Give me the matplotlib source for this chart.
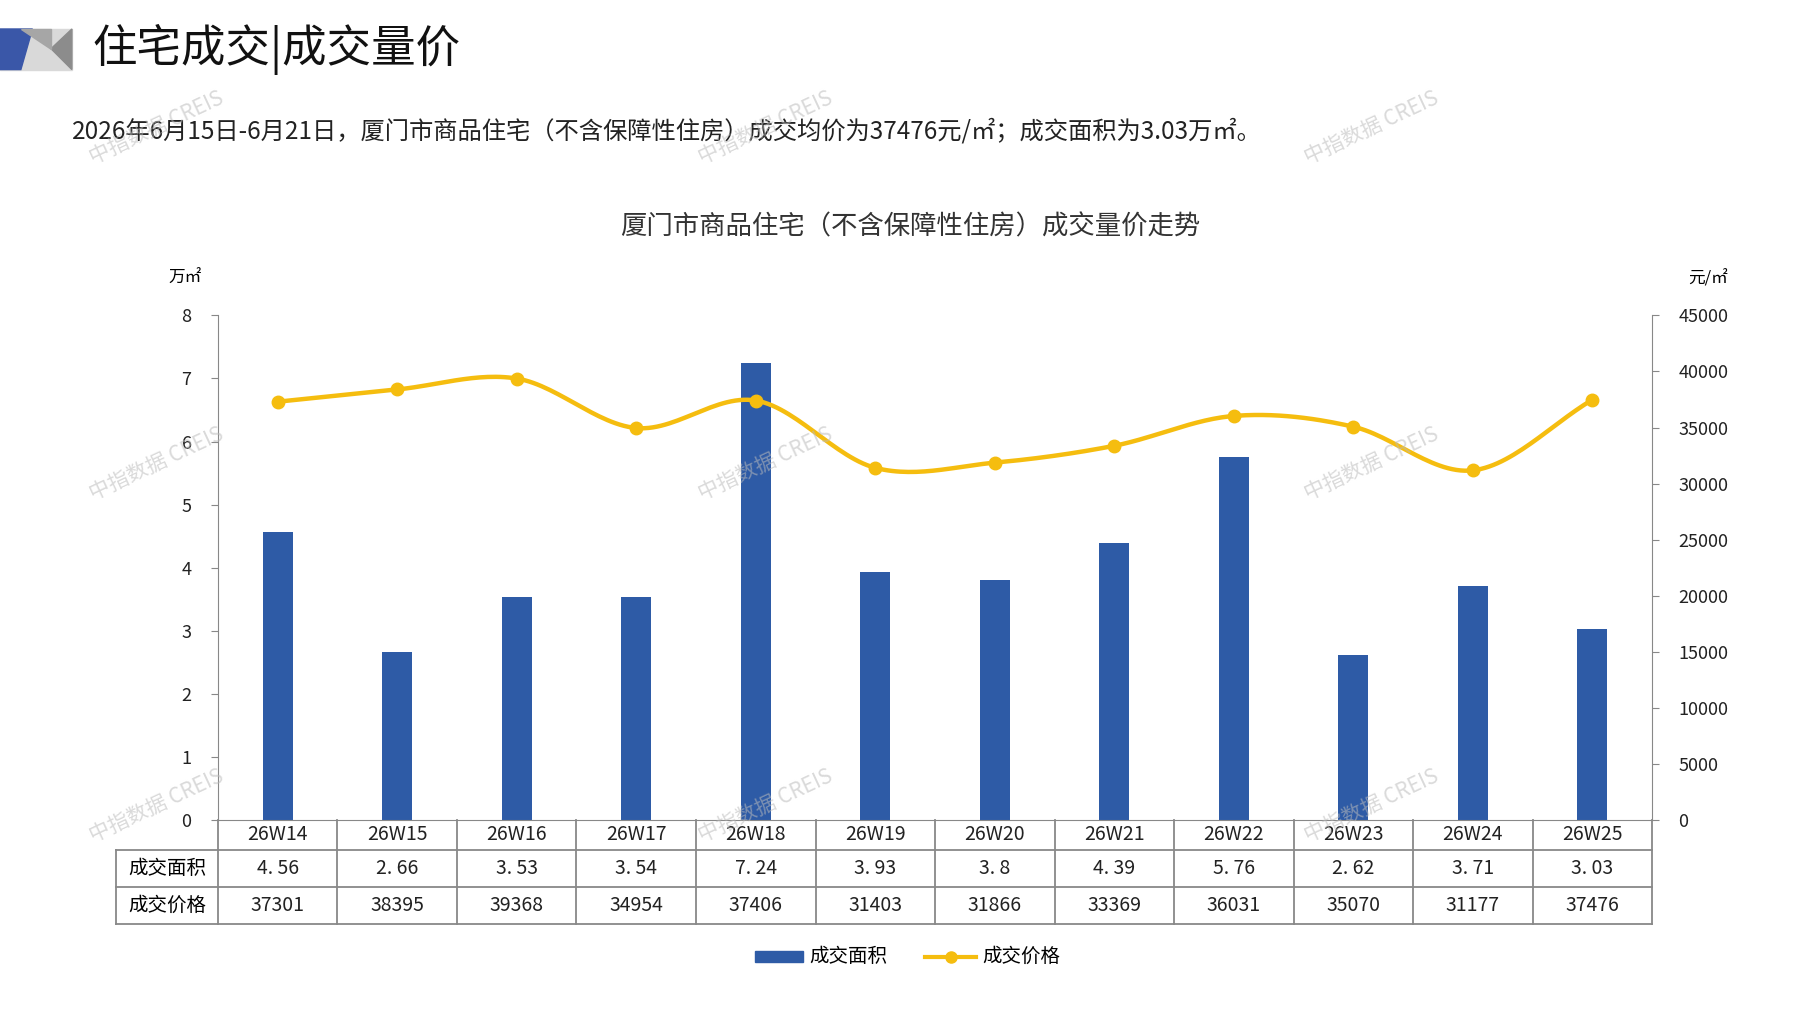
import numpy as np
import matplotlib
matplotlib.use("Agg")
import matplotlib.pyplot as plt
from matplotlib.transforms import blended_transform_factory
from matplotlib.patches import Polygon, Rectangle
from matplotlib.lines import Line2D

plt.rcParams['font.family'] = ['Noto Sans CJK SC', 'DejaVu Sans']

weeks = ["26W14","26W15","26W16","26W17","26W18","26W19","26W20","26W21","26W22","26W23","26W24","26W25"]
area = [4.56, 2.66, 3.53, 3.54, 7.24, 3.93, 3.8, 4.39, 5.76, 2.62, 3.71, 3.03]
area_labels = ["4. 56","2. 66","3. 53","3. 54","7. 24","3. 93","3. 8","4. 39","5. 76","2. 62","3. 71","3. 03"]
price = [37301, 38395, 39368, 34954, 37406, 31403, 31866, 33369, 36031, 35070, 31177, 37476]

BLUE = "#2E5BA6"
YEL = "#F5BD0F"
W, H = 1550, 871
fx = lambda x: x / W
fy = lambda y: 1 - y / H

fig = plt.figure(figsize=(17.97, 10.10), dpi=100)

# header logo
fig.patches.append(Rectangle((0, fy(60)), fx(62), fy(25)-fy(60), transform=fig.transFigure, color="#D9D9D9"))
fig.patches.append(Polygon([[0, fy(25)], [fx(28), fy(25)], [fx(18), fy(60)], [0, fy(60)]], transform=fig.transFigure, color="#3A57A8"))
fig.patches.append(Polygon([[fx(44), fy(42)], [fx(62), fy(25)], [fx(62), fy(60)]], transform=fig.transFigure, color="#8C8C8C"))
fig.patches.append(Polygon([[fx(18), fy(25)], [fx(44), fy(25)], [fx(44), fy(42)]], transform=fig.transFigure, color="#A6A6A6"))
fig.text(fx(80), fy(43), "住宅成交|成交量价", fontsize=32, va="center", ha="left", color="#111111")
fig.text(fx(62), fy(113), "2026年6月15日-6月21日，厦门市商品住宅（不含保障性住房）成交均价为37476元/㎡；成交面积为3.03万㎡。",
         fontsize=17.5, va="center", ha="left", color="#222222")
fig.text(fx(785), fy(196), "厦门市商品住宅（不含保障性住房）成交量价走势", fontsize=19, ha="center", va="center", color="#333333")

left, right, top, bottom = fx(188), fx(1425), fy(272), fy(707)
ax = fig.add_axes([left, bottom, right - left, top - bottom])
x = np.arange(len(weeks))
ax.bar(x, area, width=0.25, color=BLUE, zorder=2)
ax.set_xlim(-0.5, len(weeks) - 0.5)
ax.set_ylim(0, 8)
ax.set_yticks(range(0, 9))
ax.set_xticks([])
for s in ["top", "right"]:
    ax.spines[s].set_visible(False)
for s in ["left", "bottom"]:
    ax.spines[s].set_color("#888888")
ax.tick_params(axis="y", colors="#222222", labelsize=13, length=5, color="#888888", pad=14)

ax2 = ax.twinx()
ax2.set_ylim(0, 45000)
ax2.set_yticks(range(0, 45001, 5000))
for s in ["top", "left", "bottom"]:
    ax2.spines[s].set_visible(False)
ax2.spines["right"].set_color("#888888")
ax2.tick_params(axis="y", colors="#222222", labelsize=13, length=5, color="#888888", pad=14)

# smooth (Catmull-Rom) curve through the price points
px = np.array(x, float); py = np.array(price, float)
P = np.vstack([np.r_[2*px[0]-px[1], px, 2*px[-1]-px[-2]], np.r_[2*py[0]-py[1], py, 2*py[-1]-py[-2]]]).T
cx, cy = [], []
t = np.linspace(0, 1, 30)
for i in range(1, len(P) - 2):
    p0, p1, p2, p3 = P[i-1], P[i], P[i+1], P[i+2]
    for tt in t:
        pt = 0.5 * ((2*p1) + (-p0 + p2)*tt + (2*p0 - 5*p1 + 4*p2 - p3)*tt**2 + (-p0 + 3*p1 - 3*p2 + p3)*tt**3)
        cx.append(pt[0]); cy.append(pt[1])
ax2.plot(cx, cy, color=YEL, lw=3.2, zorder=3)
ax2.plot(px, py, "o", color=YEL, ms=9, zorder=4)

fig.text(fx(160), fy(240), "万㎡", fontsize=12, ha="center", va="center")
fig.text(fx(1473), fy(240), "元/㎡", fontsize=12, ha="center", va="center")

# data table
tr = blended_transform_factory(ax.transData, fig.transFigure)
rows_y = [fy(707), fy(733), fy(765), fy(797)]
lc = "#888888"
for i in range(len(weeks) + 1):
    xb = i - 0.5
    fig.lines.append(Line2D([xb, xb], [rows_y[0], rows_y[3]], transform=tr, color=lc, lw=1.3))
tl = fig.transFigure
fig.lines.append(Line2D([fx(100), fx(100)], [rows_y[1], rows_y[3]], transform=tl, color=lc, lw=1.3))
for yy in rows_y[1:]:
    fig.lines.append(Line2D([fx(100), right], [yy, yy], transform=tl, color=lc, lw=1.3))
for i, w in enumerate(weeks):
    fig.text(i, (rows_y[0]+rows_y[1])/2, w, transform=tr, ha="center", va="center", fontsize=14, color="#222222")
    fig.text(i, (rows_y[1]+rows_y[2])/2, area_labels[i], transform=tr, ha="center", va="center", fontsize=14, color="#222222")
    fig.text(i, (rows_y[2]+rows_y[3])/2, str(price[i]), transform=tr, ha="center", va="center", fontsize=14, color="#222222")
fig.text(fx(144), (rows_y[1]+rows_y[2])/2, "成交面积", ha="center", va="center", fontsize=14)
fig.text(fx(144), (rows_y[2]+rows_y[3])/2, "成交价格", ha="center", va="center", fontsize=14)

# legend
fig.patches.append(Rectangle((fx(651), fy(830)), fx(42), fy(820)-fy(830), transform=tl, color=BLUE))
fig.text(fx(698), fy(825), "成交面积", fontsize=14, va="center")
fig.lines.append(Line2D([fx(798), fx(842)], [fy(825), fy(825)], transform=tl, color=YEL, lw=3))
fig.lines.append(Line2D([fx(820)], [fy(825)], transform=tl, color=YEL, marker="o", ms=8))
fig.text(fx(847), fy(825), "成交价格", fontsize=14, va="center")

# watermarks
for wx in [135, 660, 1183]:
    for wy in [110, 400, 695]:
        fig.text(fx(wx), fy(wy), "中指数据 CREIS", fontsize=15, rotation=25, ha="center", va="center",
                 color="#BBBBBB", alpha=0.55, zorder=10)

fig.savefig("out.png", dpi=100, facecolor="white")
